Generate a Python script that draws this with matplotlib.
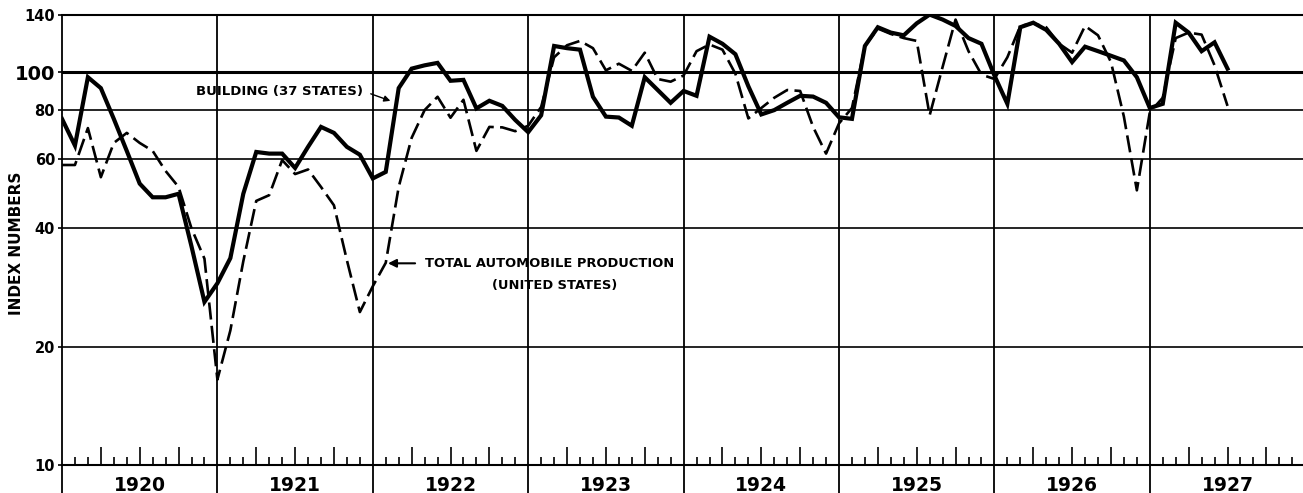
import numpy as np
import matplotlib.pyplot as plt
import matplotlib.transforms as mtransforms

# monthly index numbers, Jan 1920 .. Jul 1927
building = [76, 65, 97, 91, 76, 63, 52, 48, 48, 49, 36, 26,
            29, 33.6, 49, 62.6, 62, 62, 57, 64.5, 72.5, 70, 64.5, 61.6,
            53.6, 55.7, 91, 102, 104, 105.5, 95, 95.5, 80.8, 84.5, 82, 75.5,
            70.3, 77.6, 116.5, 115, 114, 86.5, 77, 76.6, 73, 97, 90, 83.5,
            89.5, 87, 123, 118, 111, 92, 78, 80, 83.5, 87, 86.6, 83.5,
            76.7, 76, 116.5, 130, 126, 124, 133, 140, 136, 131, 122, 118,
            98, 83, 130, 133.5, 128, 118, 106, 116, 113, 110, 107, 97,
            81, 83, 133.5, 126, 113, 119, 102]
automobiles = [58, 58, 72, 54, 66, 70, 66, 63, 56, 51, 40, 33.5,
               16.5, 22, 33, 47, 48.6, 59.7, 55, 56.5, 51, 45.8, 33.2, 24.5,
               28.5, 32.7, 51, 68, 80, 86.5, 76.5, 85, 63, 72.5, 72.3, 70.7,
               73, 81.5, 109, 117, 120, 115, 101, 105, 100.7, 112, 96, 94.5,
               98, 113, 117.5, 114, 99, 76.2, 81, 86, 90, 89.5, 72.5, 62,
               74, 81, 116.5, 129, 125, 122, 120, 77.6, 103, 136, 113, 98.5,
               96, 109, 131, 133, 130, 118, 112, 131, 124, 106, 77, 50,
               79, 86, 122, 126, 124.5, 104, 82]
years = [1920, 1921, 1922, 1923, 1924, 1925, 1926, 1927]
ytick_values = [10, 20, 40, 60, 80, 100, 140]

months = 1920 + np.arange(len(building)) / 12.0

fig = plt.figure(figsize=(13.03, 4.93), dpi=100)
ax = fig.add_axes([62 / 1303, 1 - 465 / 493, 1 - 62 / 1303, (465 - 14.6) / 493])

ax.plot(months, building, color="black", lw=3.0, solid_joinstyle="miter")
ax.plot(months, automobiles, color="black", lw=1.9, linestyle=(0, (6.5, 2.4)))

ax.set_yscale("log")
ax.set_ylim(10, 140)
ax.set_xlim(1920, 1920 + (1303 - 62) / 155.4)

# horizontal rules
for v in ytick_values[1:-1]:
    ax.axhline(v, color="black", lw=2.2 if v == 100 else 1.2, zorder=1)

# year rules, running down through the label row
for yr in years:
    ax.axvline(yr, ymin=-0.07, ymax=1, color="black", lw=1.3, clip_on=False, zorder=1)

ax.spines["right"].set_visible(False)
ax.spines["left"].set_visible(False)
ax.spines["top"].set_linewidth(1.5)
ax.spines["bottom"].set_linewidth(1.5)

ax.set_yticks(ytick_values)
ax.set_yticklabels([str(v) for v in ytick_values])
ax.yaxis.set_minor_locator(plt.NullLocator())
ax.tick_params(axis="y", length=3, width=1.2, pad=2)
for lab in ax.get_yticklabels():
    lab.set_fontweight("bold")
    lab.set_fontsize(14 if lab.get_text() == "100" else 10.5)

all_months = 1920 + np.arange(0, 96) / 12.0
quarters = [m for i, m in enumerate(all_months) if i % 3 == 0 and i % 12 != 0]
others = [m for i, m in enumerate(all_months) if i % 3 != 0]
ax.set_xticks(quarters)
ax.set_xticks(others, minor=True)
ax.tick_params(axis="x", which="major", direction="in", length=13, width=1.2, labelbottom=False)
ax.tick_params(axis="x", which="minor", direction="in", length=6, width=1.2)

trans = mtransforms.blended_transform_factory(ax.transData, ax.transAxes)
for yr in years:
    ax.text(yr + 0.5, -0.045, str(yr), transform=trans, ha="center", va="center",
            fontsize=13.5, fontweight="bold")

fig.text(17 / 1303, 1 - 243 / 493, "INDEX NUMBERS", rotation=90, ha="center", va="center",
         fontsize=11, fontweight="bold")

ax.text(1920.862, 89, "BUILDING (37 STATES)", ha="left", va="center", fontsize=9.5,
        fontweight="bold")
ax.annotate("", xy=(1922.13, 84), xytext=(1921.97, 88.5),
            arrowprops=dict(arrowstyle="-|>", color="black", lw=1.0, mutation_scale=9))
ax.text(1922.336, 32.6, "TOTAL AUTOMOBILE PRODUCTION", ha="left", va="center", fontsize=9.4,
        fontweight="bold")
ax.text(1923.17, 28.7, "(UNITED STATES)", ha="center", va="center", fontsize=9.4,
        fontweight="bold")
ax.annotate("", xy=(1922.08, 32.6), xytext=(1922.29, 32.6),
            arrowprops=dict(arrowstyle="-|>", color="black", lw=1.5, mutation_scale=12))

fig.savefig("out.png", dpi=100)
